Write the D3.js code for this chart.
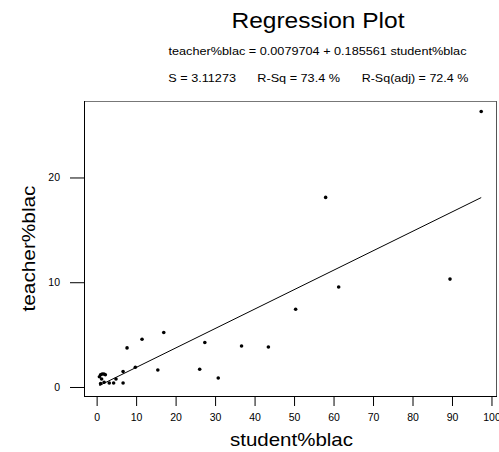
<!DOCTYPE html>
<html>
<head>
<meta charset="utf-8">
<script src="https://cdn.jsdelivr.net/npm/d3@7"></script>
<style>
  html, body { margin: 0; padding: 0; background: #fff; }
  svg { display: block; font-family: "Liberation Sans", Arial, sans-serif; }
</style>
</head>
<body>
<svg id="chart" width="499" height="452"></svg>
<script>
// Observations: percent of black students vs percent of black teachers
const studentPct = [97.4, 89.5, 58.0, 61.3, 50.4, 36.7, 43.5, 27.4, 26.1, 30.8,
                    17.0, 11.5, 7.7, 15.5, 9.8, 6.7,
                    0.7, 1.0, 1.4, 1.85, 2.2, 1.26, 1.0, 1.9, 3.2, 4.3, 4.9, 6.7];
const teacherPct = [26.3, 10.3, 18.1, 9.55, 7.42, 3.92, 3.82, 4.24, 1.69, 0.86,
                    5.2, 4.56, 3.73, 1.62, 1.88, 1.47,
                    0.98, 1.17, 1.24, 1.24, 1.17, 0.76, 0.32, 0.45, 0.38, 0.38, 0.76, 0.38];

// Fitted line coefficients and summary statistics
const intercept = 0.0079704;
const slope = 0.185561;
const xTicks = [0, 10, 20, 30, 40, 50, 60, 70, 80, 90, 100];
const yTicks = [0, 10, 20];
const titleText = "Regression Plot";
const equationText = "teacher%blac = 0.0079704 + 0.185561 student%blac";
const statsTexts = ["S = 3.11273", "R-Sq = 73.4 %", "R-Sq(adj) = 72.4 %"];
const xLabel = "student%blac";
const yLabel = "teacher%blac";

const svg = d3.select("#chart");
const frame = { left: 84, right: 497, top: 101, bottom: 396 };

const x = d3.scaleLinear().domain([-3.2, 101.4]).range([frame.left, frame.right]);
const y = d3.scaleLinear().domain([-0.86, 27.3]).range([frame.bottom, frame.top]);

// Title block (wide Helvetica-style lettering)
svg.append("text").attr("x", 318).attr("y", 28)
  .attr("text-anchor", "middle").attr("font-size", 22)
  .attr("textLength", 173).attr("lengthAdjust", "spacingAndGlyphs").text(titleText);
svg.append("text").attr("x", 317.5).attr("y", 55)
  .attr("text-anchor", "middle").attr("font-size", 11)
  .attr("textLength", 298).attr("lengthAdjust", "spacingAndGlyphs").text(equationText);
const statsX = [168.3, 257.3, 361.7];
const statsW = [67.7, 82.7, 106.6];
statsTexts.forEach((t, i) => {
  svg.append("text").attr("x", statsX[i]).attr("y", 82)
    .attr("font-size", 11)
    .attr("textLength", statsW[i]).attr("lengthAdjust", "spacingAndGlyphs").text(t);
});

// Frame: top/right in grey, left/bottom in black
svg.append("line").attr("x1", frame.left).attr("x2", frame.right)
  .attr("y1", frame.top + 0.5).attr("y2", frame.top + 0.5)
  .attr("stroke", "#777").attr("stroke-width", 1);
svg.append("line").attr("x1", frame.right - 0.5).attr("x2", frame.right - 0.5)
  .attr("y1", frame.top).attr("y2", frame.bottom)
  .attr("stroke", "#555").attr("stroke-width", 1);

// X axis
const xAxis = svg.append("g").attr("transform", `translate(0,${frame.bottom})`)
  .call(d3.axisBottom(x).tickValues(xTicks).tickSize(10).tickPadding(8));
xAxis.select(".domain").remove();
xAxis.append("line").attr("x1", frame.left).attr("x2", frame.right)
  .attr("y1", 0.5).attr("y2", 0.5).attr("stroke", "#000");
xAxis.selectAll(".tick text").attr("font-size", 10.5)
  .attr("font-family", "Liberation Sans, Arial, sans-serif").attr("fill", "#000");

// Y axis
const yAxis = svg.append("g").attr("transform", `translate(${frame.left},0)`)
  .call(d3.axisLeft(y).tickValues(yTicks).tickSize(14).tickPadding(10));
yAxis.select(".domain").remove();
yAxis.append("line").attr("x1", 0.5).attr("x2", 0.5)
  .attr("y1", frame.top).attr("y2", frame.bottom + 0.5).attr("stroke", "#000");
yAxis.selectAll(".tick text").attr("font-size", 10.5)
  .attr("font-family", "Liberation Sans, Arial, sans-serif").attr("fill", "#000");

// Axis titles
svg.append("text").attr("x", 291.5).attr("y", 446)
  .attr("text-anchor", "middle").attr("font-size", 19)
  .attr("textLength", 123).attr("lengthAdjust", "spacingAndGlyphs").text(xLabel);
svg.append("text")
  .attr("transform", `translate(35,${(frame.top + frame.bottom) / 2}) rotate(-90)`)
  .attr("text-anchor", "middle").attr("font-size", 19)
  .attr("textLength", 126).attr("lengthAdjust", "spacingAndGlyphs").text(yLabel);

// Fitted regression line across the observed range
const xExt = d3.extent(studentPct);
svg.append("line")
  .attr("x1", x(xExt[0])).attr("y1", y(intercept + slope * xExt[0]))
  .attr("x2", x(xExt[1])).attr("y2", y(intercept + slope * xExt[1]))
  .attr("stroke", "#000").attr("stroke-width", 1);

// Points
svg.append("g").selectAll("circle")
  .data(studentPct.map((s, i) => [s, teacherPct[i]]))
  .join("circle")
  .attr("cx", d => x(d[0])).attr("cy", d => y(d[1]))
  .attr("r", 1.8).attr("fill", "#000");
</script>
</body>
</html>
